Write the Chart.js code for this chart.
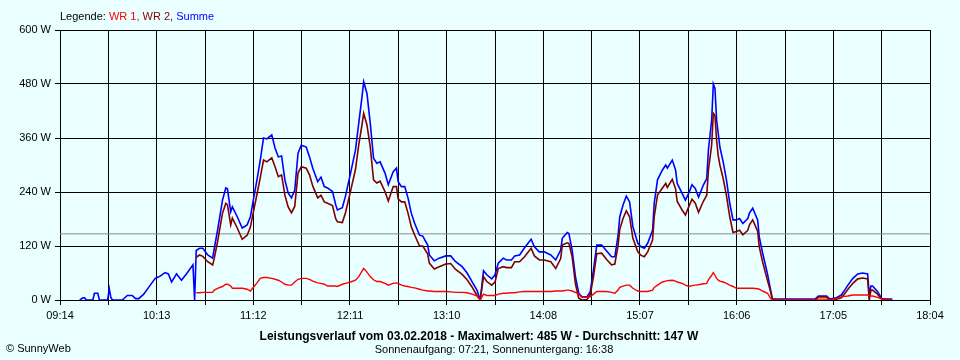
<!DOCTYPE html>
<html><head><meta charset="utf-8">
<script src="https://cdn.jsdelivr.net/npm/chart.js@4.4.1/dist/chart.umd.min.js"></script>
<style>
html,body{margin:0;padding:0;background:#eaffff;}
#wrap{position:relative;width:960px;height:360px;font-family:"Liberation Sans",Arial,sans-serif;overflow:hidden;}
canvas{position:absolute;left:0;top:0;}
.t{position:absolute;white-space:nowrap;font-size:11px;line-height:13px;color:#000;}
</style></head><body>
<div id="wrap">
<canvas id="c" width="960" height="360"></canvas>
<div class="t" style="left:60px;top:10px">Legende: <span style="color:#ff0000">WR 1,</span> <span style="color:#800000">WR 2,</span> <span style="color:#0000ff">Summe</span></div>
<div class="t" style="left:479px;top:329px;transform:translateX(-50%);font-weight:bold;font-size:12px;line-height:14px">Leistungsverlauf vom 03.02.2018 - Maximalwert: 485 W - Durchschnitt: 147 W</div>
<div class="t" style="left:494px;top:343px;transform:translateX(-50%)">Sonnenaufgang: 07:21, Sonnenuntergang: 16:38</div>
<div class="t" style="left:6px;top:342px">© SunnyWeb</div>
</div>
<script>
const timeLabels = [
'09:26','09:28','09:29','09:30','09:34','09:35','09:37','09:38','09:43','09:44','09:45','09:46','09:52','09:55','09:58','10:00','10:02','10:05','10:09','10:12','10:15','10:18','10:20','10:22','10:25','10:28','10:31','10:35','10:36',
'10:37','10:39','10:41','10:44','10:47','10:48','10:50','10:53','10:55','10:56','10:58','10:59','11:02','11:05','11:08','11:10','11:12','11:14','11:16','11:18','11:20','11:23','11:25','11:27','11:29','11:31','11:33','11:35','11:37','11:39','11:41','11:44','11:46','11:48','11:51','11:53','11:55','11:57',
'12:00','12:02','12:03','12:06','12:08','12:11','12:14','12:16','12:18','12:19','12:21','12:23','12:25','12:27','12:29','12:32','12:34','12:37','12:39','12:40','12:42','12:44','12:46','12:48','12:50','12:53','12:55','12:58','12:59',
'13:02','13:05','13:09','13:12','13:15','13:19','13:22','13:25','13:28','13:30','13:32','13:34','13:37','13:39','13:41','13:44','13:46','13:49','13:51','13:54','13:57',
'14:01','14:03','14:06','14:09','14:13','14:16','14:19','14:20','14:23','14:24','14:26','14:28','14:30','14:32','14:35','14:37','14:39','14:41','14:44','14:47','14:50','14:52','14:54','14:55','14:57','14:59',
'15:01','15:03','15:06','15:08','15:10','15:12','15:15','15:16','15:18','15:21','15:23','15:24','15:27','15:29','15:30','15:33','15:35','15:37','15:39','15:41','15:43','15:46','15:48','15:49','15:51','15:52','15:53','15:54','15:55','15:56','15:58',
'16:00','16:02','16:04','16:06','16:08','16:10','16:13','16:14','16:16','16:19','16:20','16:22','16:25','16:27','16:28','16:33','16:54','16:56',
'17:01','17:03','17:07','17:10','17:12','17:14','17:17','17:20','17:23','17:26','17:27','17:28','17:29','17:32','17:34','17:35','17:41'
];
const summe = [
0,5,5,0,0,15,15,0,0,25,5,0,0,10,10,3,3,13,33,48,53,61,58,40,58,44,58,78,0,
110,115,115,100,93,115,155,222,249,247,196,207,185,160,167,185,227,267,311,360,358,367,338,318,320,267,238,227,244,326,344,340,318,293,263,273,252,249,
241,211,200,205,232,282,333,393,452,485,459,393,315,304,307,282,256,285,293,263,252,252,227,193,171,144,142,122,100,
87,93,98,98,85,74,60,41,22,0,65,56,47,56,82,93,89,89,98,100,116,
135,118,107,107,100,89,111,137,150,148,111,52,15,7,7,18,67,122,122,109,96,96,144,185,211,231,
218,163,126,118,115,126,155,215,267,289,300,293,311,289,259,237,222,237,256,248,229,256,270,333,400,480,470,400,370,340,307,
267,215,178,178,181,170,181,193,204,178,140,105,58,20,2,2,2,9,
9,2,5,11,22,33,48,58,60,58,10,31,31,19,7,2,2
];
const wr2 = [
null,null,null,null,null,null,null,null,null,null,null,null,null,null,null,null,null,null,null,null,null,null,null,null,null,null,null,null,null,
95,100,97,85,78,93,130,193,215,212,167,182,160,135,144,162,199,235,272,311,307,316,296,274,278,233,207,194,208,282,296,293,278,253,227,233,218,215,
210,180,174,172,195,242,290,345,390,415,389,340,267,260,264,241,220,252,252,225,218,218,193,163,145,120,120,102,82,
69,74,80,81,68,57,45,29,10,0,52,41,33,40,70,74,72,72,85,85,96,
115,98,89,89,85,70,92,122,127,126,96,36,4,0,1,11,52,103,104,90,78,80,122,157,181,198,
185,137,107,99,96,107,133,185,233,249,259,250,268,247,219,200,189,207,224,215,195,220,233,288,345,415,410,355,320,300,270,
232,185,150,152,155,145,155,167,178,153,118,85,43,17,2,0,0,7,
7,0,2,5,14,24,37,47,49,47,0,22,22,13,4,2,0
];
const wr1 = [
null,null,null,null,null,null,null,null,null,null,null,null,null,null,null,null,null,null,null,null,null,null,null,null,null,null,null,null,null,
16,16,17,17,17,22,26,30,35,35,31,26,26,26,24,20,29,38,48,50,50,48,46,44,40,35,33,33,40,46,48,48,46,42,38,37,35,31,
31,31,30,35,37,40,44,52,64,70,62,52,45,41,41,37,33,37,38,37,33,31,30,28,27,24,22,20,20,
19,19,19,18,17,17,16,13,9,0,13,10,10,10,13,15,15,16,16,18,19,
19,19,19,19,19,20,20,20,22,22,20,17,13,6,6,7,13,19,19,19,17,15,22,28,31,33,
33,26,20,19,19,19,22,28,33,40,42,43,44,42,40,37,33,30,32,33,34,36,37,45,55,61,55,48,44,42,40,
37,33,30,26,26,26,26,26,26,25,24,20,15,3,0,0,0,2,
2,0,3,7,8,9,11,11,11,11,10,9,9,6,3,0,0
];
const axisStart = '09:14';
const axisEnd = '18:04';
const xTickLabels = ['09:14','10:13','11:12','12:11','13:10','14:08','15:07','16:06','17:05','18:04'];
const yMax = 600, yStep = 120;
const average = 147;

const toMin = s => { const p = s.split(':').map(Number); return p[0]*60 + p[1]; };
const pts = arr => timeLabels.map((t,i) => ({x: toMin(t), y: arr[i]}));
const xMin = toMin(axisStart), xMax = toMin(axisEnd);
const nGrid = (xTickLabels.length - 1) * 2;

new Chart(document.getElementById('c'), {
  type: 'line',
  data: {
    datasets: [
      {label:'WR 1', data: pts(wr1), borderColor:'#ff0000', borderWidth:1.4},
      {label:'WR 2', data: pts(wr2), borderColor:'#800000', borderWidth:1.6},
      {label:'Summe', data: pts(summe), borderColor:'#0000ff', borderWidth:1.6},
      {label:'Durchschnitt', data: [{x:xMin,y:average},{x:xMax,y:average}], borderColor:'#8c8c8c', borderWidth:1}
    ]
  },
  options: {
    responsive:false, animation:false, devicePixelRatio:1,
    layout:{padding:{left:0, top:30, right:30, bottom:30}},
    elements:{point:{radius:0}, line:{tension:0, fill:false}},
    plugins:{legend:{display:false}, tooltip:{enabled:false}, title:{display:false}},
    scales:{
      x:{type:'linear', min:xMin, max:xMax,
        afterBuildTicks: s => { s.ticks = Array.from({length:nGrid+1}, (_,i) => ({value: xMin + i*(xMax-xMin)/nGrid})); },
        afterFit: s => { s.height = 30; },
        grid:{color:'#000', lineWidth:1, tickLength:5, drawTicks:true},
        border:{color:'#000', width:1},
        ticks:{autoSkip:false, maxRotation:0, padding:4, color:'#000', font:{family:'"Liberation Sans", Arial, sans-serif', size:11},
          callback:(v,i) => i%2===0 ? xTickLabels[i/2] : ''}
      },
      y:{min:0, max:yMax,
        afterFit: s => { s.width = 60; },
        grid:{color:'#000', lineWidth:1, tickLength:5, drawTicks:true},
        border:{color:'#000', width:1},
        ticks:{stepSize:yStep, padding:4, color:'#000', font:{family:'"Liberation Sans", Arial, sans-serif', size:11},
          callback: v => v + ' W'}
      }
    }
  }
});
</script>
</body></html>
